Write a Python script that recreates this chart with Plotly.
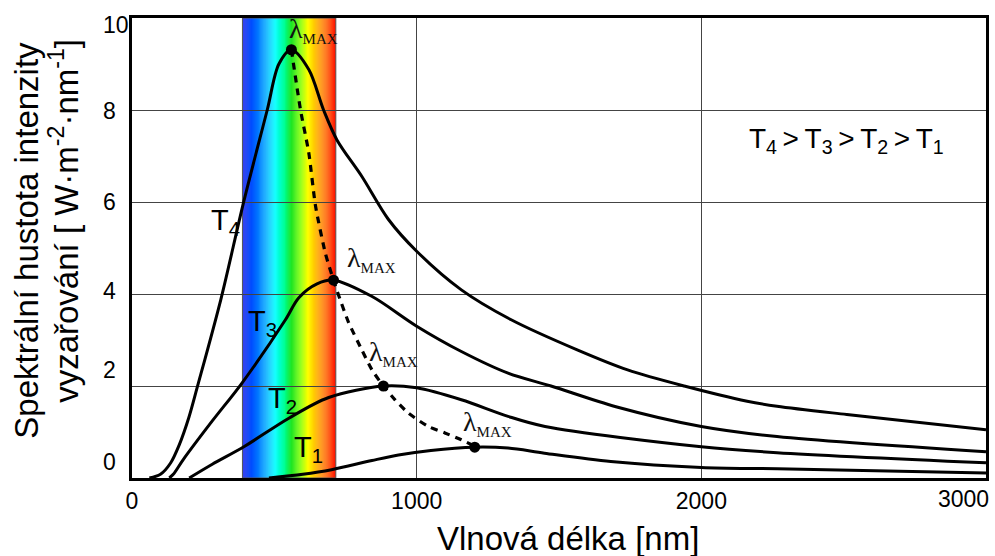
import plotly.graph_objects as go

# ---------------- data ----------------
wl_T4 = [61, 100, 135, 166, 200, 230, 312, 393, 475, 516, 560, 621, 673, 720, 807, 901, 1000, 1157, 1332, 1566, 1741, 1940, 2161, 2266, 2511, 3000]
I_T4 = [0, 0.08, 0.32, 0.72, 1.32, 1.99, 3.88, 6.02, 8.0, 9.0, 9.31, 8.88, 8.0, 7.35, 6.56, 5.62, 4.93, 4.09, 3.44, 2.78, 2.35, 2.0, 1.67, 1.56, 1.38, 1.05]

wl_T3 = [131, 145, 180, 282, 387, 539, 586, 650, 708, 842, 1000, 1157, 1321, 1472, 1700, 2000, 2266, 3000]
I_T3 = [0, 0.08, 0.40, 1.24, 2.07, 3.44, 3.92, 4.22, 4.30, 3.95, 3.30, 2.75, 2.28, 2.0, 1.55, 1.12, 0.9, 0.57]

wl_T2 = [201, 282, 393, 551, 691, 883, 1000, 1157, 1321, 1451, 2000, 2266, 3000]
I_T2 = [0, 0.30, 0.68, 1.30, 1.75, 2.0, 1.96, 1.70, 1.34, 1.12, 0.68, 0.55, 0.33]

wl_T1 = [481, 600, 701, 843, 936, 1050, 1204, 1321, 1449, 1682, 2000, 2266, 3000]
I_T1 = [0, 0.08, 0.18, 0.38, 0.50, 0.60, 0.67, 0.65, 0.54, 0.36, 0.23, 0.20, 0.11]

wl_wien = [560, 592, 621, 645, 680, 708, 727, 761, 807, 843, 883, 924, 971, 1041, 1099, 1157, 1204]
I_wien = [9.31, 8.0, 7.07, 5.9, 4.87, 4.30, 3.95, 3.38, 2.79, 2.35, 2.0, 1.70, 1.41, 1.12, 0.98, 0.83, 0.69]

wl_peak = [560, 708, 883, 1204]
I_peak = [9.31, 4.30, 2.0, 0.67]

visible_band = [388, 716]

x_ticks = [0, 1000, 2000, 3000]
x_ticklabels = ["0", "1000", "2000", "3000"]
y_ticks = [0, 2, 4, 6, 8, 10]
y_ticklabels = ["0", "2", "4", "6", "8", "10"]

curve_labels = ["T<sub>4</sub>", "T<sub>3</sub>", "T<sub>2</sub>", "T<sub>1</sub>"]
curve_label_x = [271, 399, 470, 562]
curve_label_y = [5.57, 3.38, 1.70, 0.62]

lmax_x = [545, 749, 824, 1157]
lmax_y = [9.74, 4.77, 2.72, 1.20]

# ---------------- styling ----------------
SANS = "Liberation Sans, Arial, sans-serif"
SERIF = "Liberation Serif, Times New Roman, serif"
y_label_shift = [16, 16, 3, 0, -1, -7]   # the reference's y labels sit slightly off their gridlines
spectrum_stops = [
    (0.00, (20, 30, 235)), (0.10, (0, 80, 255)), (0.25, (0, 168, 255)),
    (0.35, (0, 255, 255)), (0.45, (0, 255, 150)), (0.53, (0, 225, 0)),
    (0.62, (128, 255, 0)), (0.70, (255, 255, 0)), (0.80, (255, 176, 0)),
    (0.90, (255, 96, 0)), (1.00, (255, 16, 0)),
]


def spectrum_color(t):
    for (t0, c0), (t1, c1) in zip(spectrum_stops[:-1], spectrum_stops[1:]):
        if t <= t1:
            f = (t - t0) / (t1 - t0) if t1 > t0 else 0
            return "rgb(%d,%d,%d)" % tuple(round(a + (b - a) * f) for a, b in zip(c0, c1))
    return "rgb(%d,%d,%d)" % spectrum_stops[-1][1]


fig = go.Figure()

for wl, val in [(wl_T4, I_T4), (wl_T3, I_T3), (wl_T2, I_T2), (wl_T1, I_T1)]:
    fig.add_trace(go.Scatter(x=wl, y=val, mode="lines",
                             line=dict(color="black", width=3, shape="spline", smoothing=0.9),
                             hoverinfo="skip", showlegend=False))

fig.add_trace(go.Scatter(x=wl_wien, y=I_wien, mode="lines",
                         line=dict(color="black", width=3.2, dash="7px,6px", shape="spline", smoothing=0.6),
                         hoverinfo="skip", showlegend=False))
fig.add_trace(go.Scatter(x=wl_peak, y=I_peak, mode="markers",
                         marker=dict(color="black", size=11),
                         hoverinfo="skip", showlegend=False))

# visible spectrum band (below gridlines)
shapes = []
n_strips = 90
b0, b1 = visible_band
for i in range(n_strips):
    xa = b0 + (b1 - b0) * i / n_strips
    xb = b0 + (b1 - b0) * (i + 1) / n_strips + 0.8
    shapes.append(dict(type="rect", xref="x", yref="paper", x0=xa, x1=min(xb, b1), y0=0, y1=1,
                       fillcolor=spectrum_color((i + 0.5) / n_strips), line=dict(width=0), layer="below"))
shapes.append(dict(type="rect", xref="x", yref="paper", x0=b0, x1=b1, y0=0, y1=1,
                   fillcolor="rgba(0,0,0,0)", line=dict(color="#555", width=1), layer="below"))

annotations = []
# y tick labels (left aligned as in the reference)
for v, t, s in zip(y_ticks, y_ticklabels, y_label_shift):
    annotations.append(dict(x=0, xref="paper", y=v, yref="y", text=t, showarrow=False,
                            xanchor="left", yanchor="middle", xshift=-31, yshift=s,
                            font=dict(family=SANS, size=23, color="black")))
# last x tick label (kept inside the picture)
annotations.append(dict(x=x_ticks[-1], xref="x", y=0, yref="paper", text=x_ticklabels[-1],
                        showarrow=False, xanchor="right", yanchor="top", xshift=5, yshift=-6,
                        font=dict(family=SANS, size=23, color="black")))
# curve labels
for t, xv, yv in zip(curve_labels, curve_label_x, curve_label_y):
    annotations.append(dict(x=xv, y=yv, xref="x", yref="y", text=t, showarrow=False,
                            xanchor="left", yanchor="middle",
                            font=dict(family=SANS, size=29, color="black")))
# lambda max labels
for xv, yv in zip(lmax_x, lmax_y):
    annotations.append(dict(x=xv, y=yv, xref="x", yref="y",
                            text="λ<sub><span style='font-size:15px'>MAX</span></sub>",
                            showarrow=False, xanchor="left", yanchor="middle",
                            font=dict(family=SERIF, size=28, color="#111")))
# ordering note
annotations.append(dict(x=2510, y=7.33, xref="x", yref="y",
                        text="T<sub>4</sub>\u2009>\u2009T<sub>3</sub>\u2009>\u2009T<sub>2</sub>\u2009>\u2009T<sub>1</sub>",
                        showarrow=False, xanchor="center", yanchor="middle",
                        font=dict(family=SANS, size=28, color="black")))
# axis titles
annotations.append(dict(x=0.511, xref="paper", y=0, yref="paper", text="Vlnová délka [nm]",
                        showarrow=False, xanchor="center", yanchor="middle", yshift=-60,
                        font=dict(family=SANS, size=33, color="black")))
annotations.append(dict(x=0, xref="paper", y=0.516, yref="paper", text="Spektrální hustota intenzity",
                        showarrow=False, textangle=-90, xanchor="center", yanchor="middle", xshift=-105,
                        font=dict(family=SANS, size=33, color="black")))
annotations.append(dict(x=0, xref="paper", y=0.559, yref="paper",
                        text="vyzařování [ W·m<sup>-2</sup>·nm<sup>-1</sup>]",
                        showarrow=False, textangle=-90, xanchor="center", yanchor="middle", xshift=-68,
                        font=dict(family=SANS, size=33, color="black")))

fig.update_layout(
    width=995, height=556,
    margin=dict(l=132, r=6, t=18, b=78),
    paper_bgcolor="white", plot_bgcolor="white",
    shapes=shapes, annotations=annotations,
    showlegend=False,
    xaxis=dict(range=[0, 3000], tickvals=x_ticks[:-1], ticktext=x_ticklabels[:-1],
               showgrid=True, gridcolor="#444", gridwidth=1, zeroline=False,
               showline=True, linecolor="black", linewidth=3, mirror=True,
               ticks="", tickfont=dict(family=SANS, size=23, color="black")),
    yaxis=dict(range=[0, 10], tickvals=y_ticks, showticklabels=False,
               showgrid=True, gridcolor="#444", gridwidth=1, zeroline=False,
               showline=True, linecolor="black", linewidth=3, mirror=True, ticks=""),
)

fig.write_html("out.html", config={"displayModeBar": False},
               post_script="document.body.style.margin='0px';document.body.style.overflow='hidden';")
